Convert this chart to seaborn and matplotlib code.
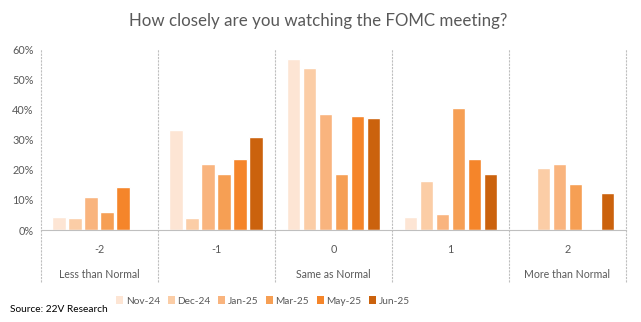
import matplotlib
matplotlib.use("Agg")
import matplotlib.pyplot as plt
import seaborn as sns
import pandas as pd
from matplotlib.patches import Patch
from matplotlib.lines import Line2D
import matplotlib.transforms as mtransforms

categories = ["-2", "-1", "0", "1", "2"]
sub_labels = ["Less than Normal", "", "Same as Normal", "", "More than Normal"]
series = ["Nov-24", "Dec-24", "Jan-25", "Mar-25", "May-25", "Jun-25"]
nov24 = [0.044, 0.333, 0.568, 0.043, 0.0]
dec24 = [0.040, 0.040, 0.538, 0.163, 0.206]
jan25 = [0.111, 0.219, 0.385, 0.053, 0.219]
mar25 = [0.060, 0.186, 0.186, 0.405, 0.153]
may25 = [0.141, 0.237, 0.379, 0.236, 0.0]
jun25 = [0.0, 0.309, 0.372, 0.186, 0.123]
colors = ["#FDE5D4", "#FBCDA6", "#F9B47E", "#F69F54", "#F5852A", "#CB620D"]

values = [nov24, dec24, jan25, mar25, may25, jun25]
rows = []
for s, vals in zip(series, values):
    for c, v in zip(categories, vals):
        rows.append({"cat": c, "series": s, "value": v})
df = pd.DataFrame(rows)

sns.set_style("white")
plt.rcParams["font.family"] = ["Lato", "DejaVu Sans"]
txt = "#595959"

fig = plt.figure(figsize=(6.41, 3.22), dpi=100)
ax = fig.add_axes([0.0635, 0.2857, 0.913, 0.5621])
sns.barplot(data=df, x="cat", y="value", hue="series", order=categories,
            hue_order=series, palette=colors, width=0.82, gap=0.15,
            ax=ax, legend=False, saturation=1)
ax.set_xlim(-0.5, len(categories) - 0.5)
ax.set_ylim(0, 0.6)
ax.set_yticks([0, 0.1, 0.2, 0.3, 0.4, 0.5, 0.6])
ax.set_yticklabels(["0%", "10%", "20%", "30%", "40%", "50%", "60%"], color=txt, fontsize=7.8)
ax.tick_params(axis="y", length=0, pad=5)
ax.set_xticks(range(len(categories)))
ax.set_xticklabels(categories, color=txt, fontsize=7.8)
ax.tick_params(axis="x", length=0, pad=10)
ax.set_xlabel("")
ax.set_ylabel("")
for sp in ["top", "right", "left"]:
    ax.spines[sp].set_visible(False)
ax.spines["bottom"].set_color("#BFBFBF")
ax.spines["bottom"].set_linestyle((0, (2, 1)))
ax.spines["bottom"].set_linewidth(0.8)

trans = mtransforms.blended_transform_factory(ax.transData, ax.transAxes)
for b in [i - 0.5 for i in range(len(categories) + 1)]:
    ax.add_line(Line2D([b, b], [-0.29, 1.0], transform=trans, color="#BFBFBF",
                       linestyle=(0, (2, 1)), linewidth=0.8, clip_on=False))
for i, lab in enumerate(sub_labels):
    if lab:
        ax.text(i, -0.245, lab, transform=trans, ha="center", va="center",
                color=txt, fontsize=7.6)

fig.text(0.497, 0.935, "How closely are you watching the FOMC meeting?",
         ha="center", va="center", color=txt, fontsize=12.2)

handles = [Patch(facecolor=c, edgecolor="none", label=s) for c, s in zip(colors, series)]
fig.legend(handles=handles, loc="center", bbox_to_anchor=(263 / 641, 1 - 301 / 322),
           ncol=6, frameon=False, fontsize=7.3, labelcolor=txt,
           handlelength=0.7, handleheight=0.7, handletextpad=0.25, columnspacing=0.75)
fig.text(10 / 641, 1 - 310 / 322, "Source: 22V Research", ha="left", va="center",
         color="black", fontsize=7.3)

fig.savefig("out.png", dpi=100)
